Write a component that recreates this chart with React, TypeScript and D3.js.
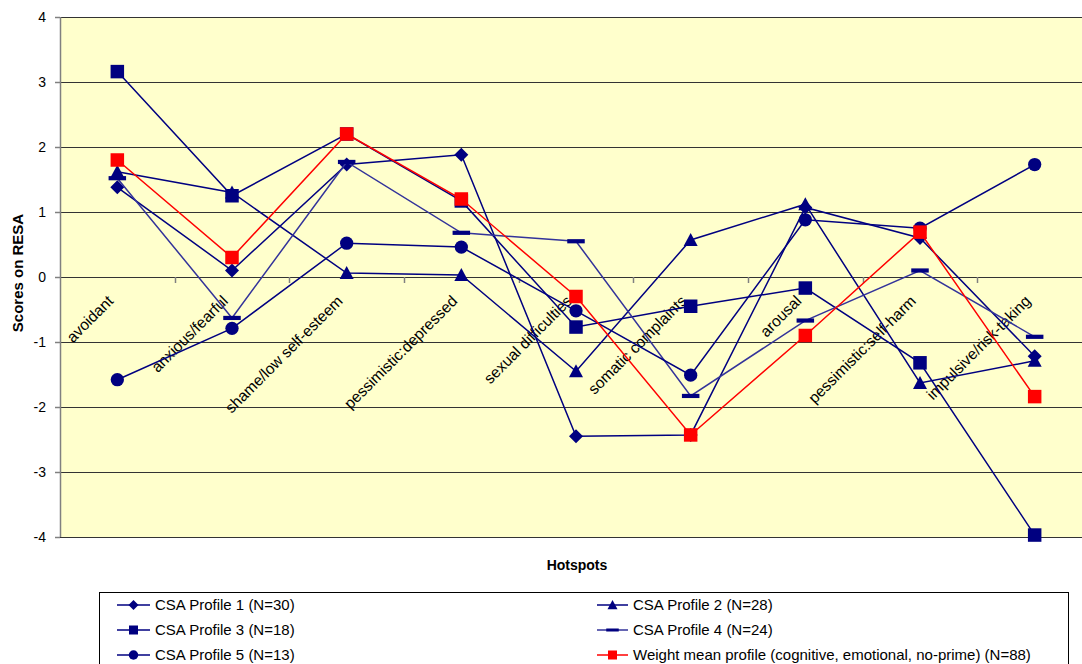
import React from 'react';
import * as d3 from 'd3';

const categories = [
  'avoidant',
  'anxious/fearful',
  'shame/low self-esteem',
  'pessimistic:depressed',
  'sexual difficulties',
  'somatic complaints',
  'arousal',
  'pessimistic:self-harm',
  'impulsive/risk-taking',
];
const profile1 = [1.38, 0.1, 1.73, 1.88, -2.45, -2.43, 1.07, 0.6, -1.22];
const profile2 = [1.62, 1.3, 0.06, 0.03, -1.45, 0.57, 1.12, -1.63, -1.29];
const profile3 = [3.16, 1.25, 2.2, 1.17, -0.77, -0.45, -0.17, -1.32, -3.97];
const profile4 = [1.52, -0.63, 1.77, 0.68, 0.55, -1.83, -0.67, 0.1, -0.92];
const profile5 = [-1.58, -0.79, 0.52, 0.46, -0.52, -1.51, 0.88, 0.75, 1.73];
const weightedMean = [1.8, 0.3, 2.2, 1.2, -0.3, -2.43, -0.9, 0.69, -1.84];
const seriesNames = [
  'CSA Profile 1 (N=30)',
  'CSA Profile 2 (N=28)',
  'CSA Profile 3 (N=18)',
  'CSA Profile 4 (N=24)',
  'CSA Profile 5 (N=13)',
  'Weight mean profile (cognitive, emotional, no-prime) (N=88)',
];
const yTicks = [-4, -3, -2, -1, 0, 1, 2, 3, 4];

type Marker = 'diamond' | 'triangle' | 'square' | 'dash' | 'circle';
const series: { name: string; values: number[]; marker: Marker; line: string; fill: string }[] = [
  { name: seriesNames[0], values: profile1, marker: 'diamond', line: '#000080', fill: '#000080' },
  { name: seriesNames[1], values: profile2, marker: 'triangle', line: '#000080', fill: '#000080' },
  { name: seriesNames[2], values: profile3, marker: 'square', line: '#000080', fill: '#000080' },
  { name: seriesNames[3], values: profile4, marker: 'dash', line: '#33339a', fill: '#000080' },
  { name: seriesNames[4], values: profile5, marker: 'circle', line: '#000080', fill: '#000080' },
  { name: seriesNames[5], values: weightedMean, marker: 'square', line: '#ff0000', fill: '#ff0000' },
];

function markerEl(m: Marker, x: number, y: number, s: number, fill: string, key?: string) {
  const h = s / 2;
  switch (m) {
    case 'diamond':
      return <path key={key} d={`M${x},${y - h}L${x + h},${y}L${x},${y + h}L${x - h},${y}Z`} fill={fill} />;
    case 'triangle':
      return <path key={key} d={`M${x},${y - h}L${x + h},${y + h * 0.85}L${x - h},${y + h * 0.85}Z`} fill={fill} />;
    case 'square':
      return <rect key={key} x={x - h * 0.9} y={y - h * 0.9} width={s * 0.9} height={s * 0.9} fill={fill} />;
    case 'dash':
      return <rect key={key} x={x - h * 1.25} y={y - s * 0.15} width={s * 1.25} height={s * 0.3} fill={fill} />;
    case 'circle':
      return <circle key={key} cx={x} cy={y} r={h * 0.95} fill={fill} />;
  }
}

export default function App() {
  const W = 1082;
  const H = 664;
  const left = 60;
  const right = 1092;
  const top = 17;
  const bottom = 537;
  const x = d3.scaleBand<string>().domain(categories).range([left, right]).padding(0);
  const y = d3.scaleLinear().domain([-4, 4]).range([bottom, top]);
  const cx = (c: string) => (x(c) as number) + x.bandwidth() / 2;
  const line = d3
    .line<number>()
    .x((_, i) => cx(categories[i]))
    .y((v) => y(v));
  const font = 'Arial, "Liberation Sans", sans-serif';
  const y0 = y(0);

  const legendRows = [605, 630, 655];
  const legendCols = [{ l1: 117, l2: 150, tx: 155 }, { l1: 597, l2: 628, tx: 633 }];

  return (
    <svg width={W} height={H} style={{ position: 'absolute', left: 0, top: 0, background: '#fff' }} fontFamily={font}>
      <rect x={left} y={top} width={right - left} height={bottom - top} fill="#ffffcc" />
      {yTicks.map((t) => (
        <line key={'g' + t} x1={left} x2={right} y1={Math.round(y(t)) + 0.5} y2={Math.round(y(t)) + 0.5} stroke="#333" strokeWidth={1} />
      ))}
      <line x1={left + 0.5} x2={left + 0.5} y1={top} y2={bottom} stroke="#808080" strokeWidth={1.5} />
      {yTicks.map((t) => (
        <g key={'t' + t}>
          <line x1={left - 5} x2={left} y1={Math.round(y(t)) + 0.5} y2={Math.round(y(t)) + 0.5} stroke="#808080" strokeWidth={1.5} />
          <text x={46} y={y(t) + 5} textAnchor="end" fontSize={14} fill="#000">
            {t}
          </text>
        </g>
      ))}
      {categories.slice(1).map((c) => (
        <line key={'xt' + c} x1={Math.round(x(c) as number) + 0.5} x2={Math.round(x(c) as number) + 0.5} y1={y0} y2={y0 + 6} stroke="#808080" strokeWidth={1.5} />
      ))}
      {categories.map((c) => (
        <text key={'xl' + c} transform={`translate(${cx(c) - 3},${y0 + 25}) rotate(-45)`} textAnchor="end" fontSize={15.5} fill="#000">
          {c}
        </text>
      ))}
      {series.map((s, si) => (
        <g key={'s' + si}>
          <path d={line(s.values) || ''} fill="none" stroke={s.line} strokeWidth={1.5} />
          {s.values.map((v, i) => markerEl(s.marker, cx(categories[i]), y(v), s.marker === 'square' ? 15 : 14, s.fill, 'm' + i))}
        </g>
      ))}
      <text transform={`translate(23,${y0 - 4}) rotate(-90)`} textAnchor="middle" fontSize={15} fontWeight="bold">
        Scores on RESA
      </text>
      <text x={577} y={570} textAnchor="middle" fontSize={14} fontWeight="bold">
        Hotspots
      </text>
      <rect x={99.5} y={592.5} width={969} height={90} fill="#fff" stroke="#000" strokeWidth={1} />
      {series.map((s, si) => {
        const col = legendCols[si % 2];
        const ry = legendRows[Math.floor(si / 2)];
        return (
          <g key={'lg' + si}>
            <line x1={col.l1} x2={col.l2} y1={ry} y2={ry} stroke={s.line} strokeWidth={1.5} />
            {markerEl(s.marker, (col.l1 + col.l2) / 2, ry, 10, s.fill)}
            <text x={col.tx} y={ry + 5} fontSize={15} fill="#000">
              {s.name}
            </text>
          </g>
        );
      })}
    </svg>
  );
}
